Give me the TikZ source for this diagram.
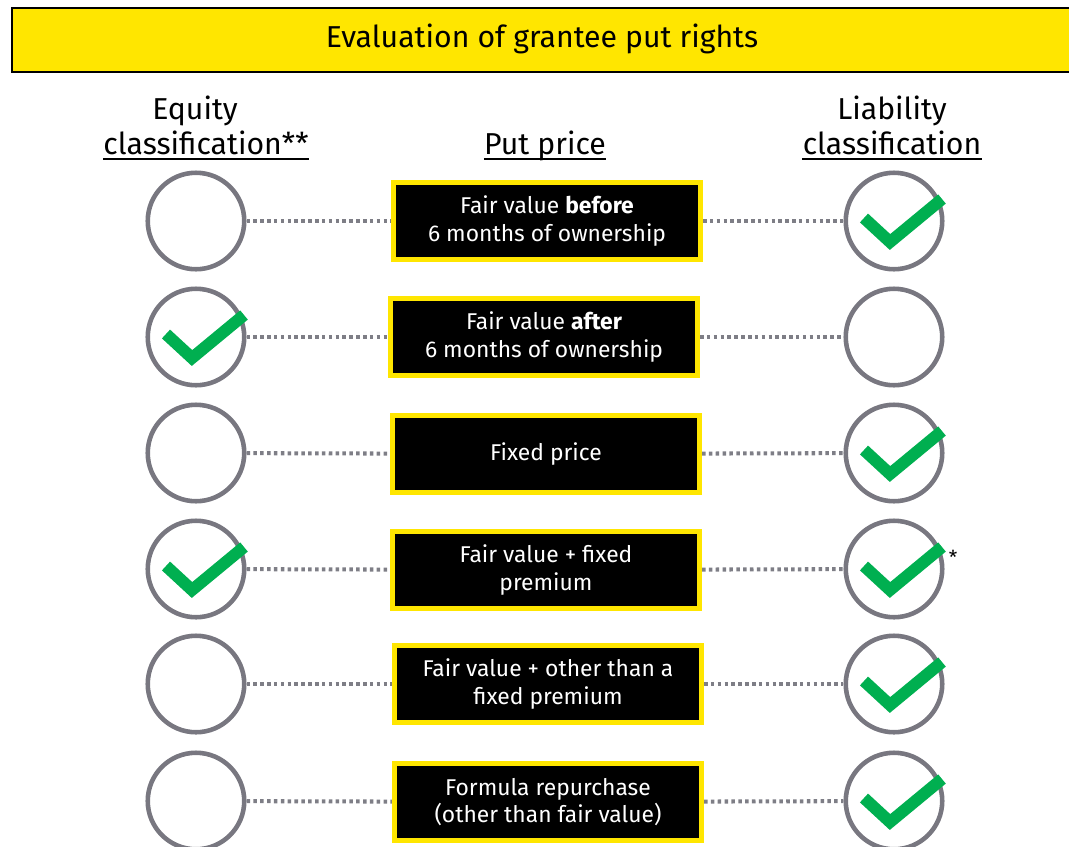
\documentclass[tikz,border=0pt]{standalone}
\usepackage{fontspec}
\setmainfont{Fira Sans}
\definecolor{eyyellow}{HTML}{FFE600}
\definecolor{ringgray}{HTML}{787780}
\definecolor{dotgray}{HTML}{7E7E86}
\definecolor{tickgreen}{HTML}{00AF50}
\begin{document}
\begin{tikzpicture}[x=0.02cm,y=-0.02cm,
  ring/.style={draw=ringgray, circle, line width=2.6pt, minimum size=1.93cm, inner sep=0pt},
  price/.style={draw=eyyellow, fill=black, line width=2.9pt, text=white, minimum width=6.14cm, minimum height=1.54cm, align=center, inner sep=0pt, font=\fontsize{13}{15.5}\selectfont},
  link/.style={draw=dotgray, line width=2.3pt, dash pattern=on 2pt off 1.9pt},
  tick/.style={draw=tickgreen, line width=6.8pt, line join=miter, line cap=butt},
  head/.style={anchor=base, inner sep=0pt, font=\fontsize{17.2}{20}\selectfont},
  uline/.style={draw=black, line width=1.1pt}]
\useasboundingbox (0,0) rectangle (1069,846);
% title bar
\path[draw=black, fill=eyyellow, line width=1.2pt] (12,8) rectangle (1100,72);
\node[font=\fontsize{17.2}{20}\selectfont] (title) at (542,39) {Evaluation of grantee put rights};
% column headings
\node[head] (eqA) at (195,119) {Equity};
\node[head] (eqB) at (206,154) {classification**};
\node[head] (put) at (545,154) {Put price};
\node[head] (liA) at (892,119) {Liability};
\node[head] (liB) at (892,154) {classification};
\path[uline] ([yshift=-2.8pt]eqB.base west) -- ([yshift=-2.8pt]eqB.base east);
\path[uline] ([yshift=-2.8pt]put.base west) -- ([yshift=-2.8pt]put.base east);
\path[uline] ([yshift=-2.8pt]liB.base west) -- ([yshift=-2.8pt]liB.base east);
% rows
\node[ring] (l1) at (196,221) {};
\node[ring] (l2) at (196,337) {};
\node[ring] (l3) at (196,453) {};
\node[ring] (l4) at (196,569) {};
\node[ring] (l5) at (196,684) {};
\node[ring] (l6) at (196,801) {};
\node[ring] (r1) at (894,221) {};
\node[ring] (r2) at (894,337) {};
\node[ring] (r3) at (894,453) {};
\node[ring] (r4) at (894,569) {};
\node[ring] (r5) at (894,684) {};
\node[ring] (r6) at (894,801) {};
\node[price] (b1) at (547,221) {Fair value \textbf{before}\\6 months of ownership};
\node[price] (b2) at (544,337) {Fair value \textbf{after}\\6 months of ownership};
\node[price] (b3) at (546,454) {Fixed price};
\node[price] (b4) at (546,570) {Fair value + fixed\\premium};
\node[price] (b5) at (548,684) {Fair value + other than a\\fixed premium};
\node[price] (b6) at (548,802) {Formula repurchase\\(other than fair value)};
\path[link] (l1) -- (b1);
\path[link] (b1) -- (r1);
\path[link] (l2) -- (b2);
\path[link] (b2) -- (r2);
\path[link] (l3) -- (b3);
\path[link] (b3) -- (r3);
\path[link] (l4) -- (b4);
\path[link] (b4) -- (r4);
\path[link] (l5) -- (b5);
\path[link] (b5) -- (r5);
\path[link] (l6) -- (b6);
\path[link] (b6) -- (r6);
% ticks
\path[tick] ([shift={(-30,-3)}]l2.center) -- ([shift={(-4,21)}]l2.center) -- ([shift={(48,-22)}]l2.center);
\path[tick] ([shift={(-30,-3)}]l4.center) -- ([shift={(-4,21)}]l4.center) -- ([shift={(48,-22)}]l4.center);
\path[tick] ([shift={(-30,-3)}]r1.center) -- ([shift={(-4,21)}]r1.center) -- ([shift={(48,-22)}]r1.center);
\path[tick] ([shift={(-30,-3)}]r3.center) -- ([shift={(-4,21)}]r3.center) -- ([shift={(48,-22)}]r3.center);
\path[tick] ([shift={(-30,-3)}]r4.center) -- ([shift={(-4,21)}]r4.center) -- ([shift={(48,-22)}]r4.center);
\path[tick] ([shift={(-30,-3)}]r5.center) -- ([shift={(-4,21)}]r5.center) -- ([shift={(48,-22)}]r5.center);
\path[tick] ([shift={(-30,-3)}]r6.center) -- ([shift={(-4,21)}]r6.center) -- ([shift={(48,-22)}]r6.center);
\node[font=\fontsize{11}{13}\selectfont, inner sep=0pt] (ast) at (953,557) {*};
\end{tikzpicture}
\end{document}
